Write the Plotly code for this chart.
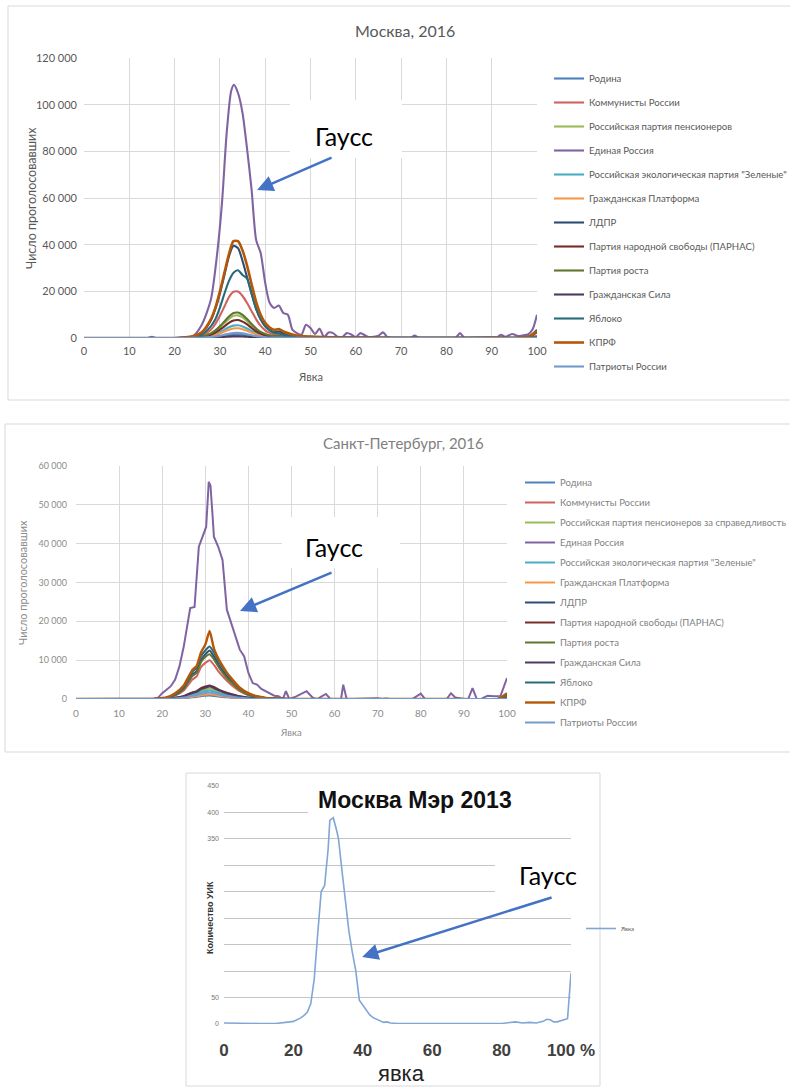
import plotly.graph_objects as go

W, H = 790, 1088
def px(x):
    return x / W
def py(y):
    return 1 - y / H

FONT = "Lato, sans-serif"

# ---------------- data ----------------
PARTIES_MSK = ["Родина", "Коммунисты России", "Российская партия пенсионеров", "Единая Россия",
               "Российская экологическая партия \"Зеленые\"", "Гражданская Платформа", "ЛДПР",
               "Партия народной свободы (ПАРНАС)", "Партия роста", "Гражданская Сила", "Яблоко",
               "КПРФ", "Патриоты России"]
PARTIES_SPB = ["Родина", "Коммунисты России", "Российская партия пенсионеров за справедливость", "Единая Россия",
               "Российская экологическая партия \"Зеленые\"", "Гражданская Платформа", "ЛДПР",
               "Партия народной свободы (ПАРНАС)", "Партия роста", "Гражданская Сила", "Яблоко",
               "КПРФ", "Патриоты России"]
PARTY_COLORS = ["#4F81BD", "#D0625E", "#9BBB59", "#8064A2", "#4BACC6", "#F79646", "#2C4D75",
                "#772C2A", "#5F7530", "#4D3B62", "#276A7C", "#B65708", "#729ACA"]

# Moscow 2016 (turnout, votes)
MSK_X = [0, 20, 22, 24, 26, 28, 29, 30, 31, 32, 33, 34, 35, 36, 37, 38, 39, 40, 41, 42, 43, 44,
         46, 48, 50, 55, 60, 70, 80, 90, 98, 100]
MSK_RODINA = [0, 0, 6, 21, 77, 250, 420, 640, 910, 1180, 1360, 1390, 1260, 1040, 770, 520, 340, 220, 150, 110, 110, 84, 42, 21, 17, 8, 6, 3, 3, 6, 14, 84]
MSK_KOMM = [0, 0, 80, 300, 1000, 3500, 6000, 9500, 13500, 17500, 19800, 19900, 18000, 15000, 11500, 8000, 5200, 3300, 2200, 1600, 1500, 1100, 600, 300, 250, 100, 80, 40, 40, 80, 200, 800]
MSK_PENS = [0, 0, 40, 150, 540, 1750, 2900, 4500, 6400, 8200, 9500, 9700, 8800, 7200, 5400, 3600, 2350, 1500, 1030, 780, 800, 590, 290, 150, 120, 60, 40, 20, 20, 40, 100, 500]
MSK_ZEL = [0, 0, 20, 80, 300, 1000, 1650, 2500, 3600, 4600, 5300, 5450, 4950, 4050, 3000, 2000, 1300, 850, 580, 440, 440, 330, 170, 80, 70, 30, 20, 10, 10, 20, 55, 300]
MSK_PLAT = [0, 0, 17, 63, 230, 760, 1260, 1930, 2730, 3530, 4070, 4160, 3780, 3100, 2300, 1550, 1000, 650, 440, 340, 340, 250, 130, 60, 50, 25, 17, 8, 8, 17, 40, 250]
MSK_LDPR = [0, 0, 150, 600, 2300, 7500, 12500, 19000, 27000, 35000, 39500, 38500, 33000, 26000, 19000, 12500, 8000, 5000, 3500, 2500, 2800, 2000, 1200, 600, 500, 200, 150, 80, 80, 150, 400, 2500]
MSK_PARNAS = [0, 0, 30, 120, 430, 1400, 2300, 3600, 5000, 6500, 7500, 7700, 7000, 5800, 4300, 2900, 1900, 1200, 820, 620, 620, 470, 230, 120, 90, 50, 30, 15, 15, 30, 80, 400]
MSK_ROST = [0, 0, 40, 160, 600, 2000, 3300, 5000, 7100, 9200, 10700, 10900, 9900, 8100, 6000, 4100, 2600, 1700, 1150, 880, 880, 660, 330, 160, 130, 70, 40, 20, 20, 40, 110, 660]
MSK_SILA = [0, 0, 3, 10, 38, 126, 210, 320, 455, 590, 680, 690, 630, 520, 385, 260, 170, 110, 73, 56, 56, 42, 21, 10, 8, 4, 3, 1, 1, 3, 7, 42]
MSK_YABL = [0, 0, 100, 400, 1500, 5000, 8000, 13000, 19000, 24500, 28000, 29000, 27000, 25500, 19000, 12500, 8000, 5000, 3300, 2200, 2000, 1400, 800, 400, 300, 150, 100, 50, 50, 100, 300, 3500]
MSK_KPRF = [0, 0, 200, 700, 2500, 8000, 13000, 20000, 28000, 36000, 41500, 41500, 37500, 31000, 23000, 15500, 10000, 6500, 4500, 3500, 3800, 2800, 1500, 800, 600, 300, 200, 100, 100, 200, 500, 3000]
MSK_PATR = [0, 0, 9, 33, 120, 400, 660, 1010, 1430, 1850, 2130, 2180, 1980, 1630, 1210, 810, 530, 340, 230, 180, 180, 130, 66, 33, 26, 13, 9, 4, 4, 9, 22, 130]

MSK_ER_X = [0, 14, 15, 16, 20, 22, 24, 26, 28, 29.5, 30.5, 31.5, 32.5, 33.1,
            34, 35, 36, 37, 38, 39, 40, 41, 42, 43, 44, 45, 46, 47, 48, 49, 50, 51, 52, 53, 54, 55, 56, 57,
            58, 59, 60, 61, 62, 63, 64, 65, 66, 67, 68,
            70, 72, 73, 74, 76, 80, 82, 83, 84, 86, 88, 90, 91, 92, 93, 94.5, 96, 97, 98, 99, 100]
MSK_ER = [0, 0, 500, 0, 0, 100, 700, 5700, 16400, 38000, 59000, 88000, 106000, 108500,
          105000, 96400, 81000, 63500, 42000, 36400, 23600, 15000, 12900, 13900, 10700, 10000, 3600, 2100, 1400, 5700, 4300, 1700, 4000, 400, 2400, 2100, 500, 400,
          2100, 1500, 300, 2100, 1200, 300, 500, 1000, 2400, 300, 0,
          0, 0, 1000, 0, 0, 0, 0, 2100, 0, 0, 0, 0, 0, 1400, 500, 1700, 800, 1200, 1500, 3600, 10000]

# Saint Petersburg 2016
SPB_X = [0, 17, 19, 21, 23, 25, 26, 27, 28, 29, 30, 31, 32, 33, 34, 35, 36, 37, 38, 40, 42, 44,
         46, 48, 50, 55, 60, 70, 80, 90, 98, 100]
SPB_RODINA = [0, 0, 5, 20, 77, 190, 320, 440, 510, 720, 820, 900, 790, 650, 520, 420, 330, 250, 180, 85, 39, 15, 8, 3, 1, 0, 0, 0, 0, 0, 2, 40]
SPB_KOMM = [0, 0, 60, 230, 850, 2200, 3600, 5000, 5800, 8200, 9300, 10000, 8800, 7200, 5900, 4700, 3700, 2800, 2000, 950, 430, 180, 90, 30, 20, 5, 5, 0, 0, 0, 30, 500]
SPB_PENS = [0, 0, 15, 60, 230, 580, 970, 1310, 1540, 2160, 2450, 2700, 2380, 1940, 1560, 1250, 1000, 740, 540, 250, 115, 46, 23, 8, 4, 0, 0, 0, 0, 0, 8, 120]
SPB_ZEL = [0, 0, 12, 50, 190, 470, 790, 1070, 1250, 1760, 2000, 2200, 1940, 1580, 1270, 1020, 810, 600, 440, 210, 95, 38, 19, 6, 3, 0, 0, 0, 0, 0, 6, 100]
SPB_PLAT = [0, 0, 7, 27, 100, 260, 430, 580, 680, 960, 1090, 1200, 1060, 860, 690, 550, 440, 330, 240, 110, 52, 21, 10, 3, 2, 0, 0, 0, 0, 0, 3, 60]
SPB_LDPR = [0, 0, 80, 300, 1100, 2800, 4600, 6300, 7200, 10000, 11500, 12500, 11000, 9000, 7300, 5800, 4600, 3500, 2500, 1200, 550, 230, 110, 40, 25, 8, 8, 0, 0, 0, 40, 800]
SPB_PARNAS = [0, 0, 20, 80, 300, 750, 1250, 1700, 2000, 2800, 3200, 3500, 3100, 2500, 2000, 1600, 1300, 950, 700, 330, 150, 60, 30, 10, 5, 0, 0, 0, 0, 0, 10, 200]
SPB_ROST = [0, 0, 70, 270, 1000, 2600, 4300, 5900, 6800, 9500, 10800, 11500, 10200, 8400, 6800, 5400, 4300, 3300, 2300, 1100, 500, 210, 100, 40, 20, 8, 8, 0, 0, 0, 40, 700]
SPB_SILA = [0, 0, 20, 70, 270, 690, 1150, 1560, 1820, 2560, 2900, 3200, 2830, 2300, 1850, 1480, 1180, 880, 640, 300, 140, 55, 27, 9, 5, 0, 0, 0, 0, 0, 10, 150]
SPB_YABL = [0, 0, 80, 300, 1200, 3000, 5000, 7000, 8000, 11000, 12500, 13500, 12000, 10000, 8200, 6500, 5200, 4000, 2800, 1400, 650, 280, 130, 50, 30, 10, 10, 0, 0, 0, 50, 1200]
SPB_KPRF = [0, 0, 100, 400, 1500, 3500, 5500, 7500, 8500, 12000, 14000, 17500, 13000, 10500, 8500, 6800, 5400, 4100, 2900, 1500, 700, 300, 150, 50, 30, 10, 10, 0, 0, 0, 50, 1500]
SPB_PATR = [0, 0, 10, 40, 145, 365, 610, 830, 970, 1360, 1550, 1700, 1500, 1220, 980, 790, 630, 470, 340, 160, 73, 29, 15, 5, 3, 0, 0, 0, 0, 0, 5, 80]

SPB_ER_X = [0, 16, 17, 18, 19, 20, 21, 22, 23, 24, 25, 26,
            26.5, 27.5, 28, 28.5, 29.5, 30.2, 30.8, 31.2, 31.7, 32,
            33, 34, 35, 36, 37, 38, 39, 40, 41, 42, 43, 44, 45, 46, 47,
            48, 48.7, 49.5, 51, 52, 53.5, 55, 56, 57, 58, 59, 60, 61, 61.5, 62, 62.8, 64,
            70, 71, 72, 73, 78,
            80, 81, 86, 87, 88,
            90, 91, 92, 93, 94, 95.5, 97, 98.5, 100]
SPB_ER = [0, 0, 100, 150, 300, 1500, 2400, 3300, 5000, 8400, 13500, 20400,
          23400, 23700, 30700, 39200, 42200, 44300, 55900, 55000, 47000, 41800,
          39200, 35800, 23000, 19500, 16100, 12700, 11000, 6700, 4100, 3700, 2600, 2000, 1400, 860, 700,
          0, 2000, 0, 600, 1100, 2000, 250, 0, 700, 1300, 0, 0, 0, 0, 3700, 0, 0,
          200, 0, 150, 0, 0,
          1400, 0, 0, 1500, 400,
          0, 0, 2800, 0, 0, 860, 700, 800, 5400]

# Moscow mayor 2013 (turnout, number of polling stations)
MAYOR_X = [0, 5, 10, 15, 17, 19, 20, 21, 22, 23, 24, 25, 26, 27, 28, 29, 30, 30.5, 31.5, 32.5,
           33, 34, 35, 36, 37, 38, 39, 40, 41, 42, 43, 44, 45, 46, 47, 48,
           50, 55, 60, 65, 70, 75, 80, 84, 86, 88, 90, 92, 93, 94, 95, 96, 97, 98, 99, 100]
MAYOR_Y = [2, 1, 1, 1, 2, 4, 5, 8, 11, 16, 22, 38, 85, 170, 250, 262, 330, 385, 390, 365,
           350, 290, 230, 175, 135, 100, 45, 36, 27, 17, 12, 9, 5, 3, 4, 2,
           1, 1, 1, 1, 1, 1, 1, 4, 2, 3, 2, 5, 9, 8, 4, 4, 6, 9, 10, 96]

X_TICKS = [0, 10, 20, 30, 40, 50, 60, 70, 80, 90, 100]
MSK_Y_TICKS = [0, 20000, 40000, 60000, 80000, 100000, 120000]
MSK_Y_TEXT = ["0", "20 000", "40 000", "60 000", "80 000", "100 000", "120 000"]
SPB_Y_TICKS = [0, 10000, 20000, 30000, 40000, 50000, 60000]
SPB_Y_TEXT = ["0", "10 000", "20 000", "30 000", "40 000", "50 000", "60 000"]
MAYOR_X_TICKS = [0, 20, 40, 60, 80, 100]
MAYOR_X_TEXT = ["0", "20", "40", "60", "80", "100 %"]
MAYOR_Y_TICKS = [0, 50, 350, 400, 450]

MSK_SERIES = [MSK_RODINA, MSK_KOMM, MSK_PENS, None, MSK_ZEL, MSK_PLAT, MSK_LDPR,
              MSK_PARNAS, MSK_ROST, MSK_SILA, MSK_YABL, MSK_KPRF, MSK_PATR]
SPB_SERIES = [SPB_RODINA, SPB_KOMM, SPB_PENS, None, SPB_ZEL, SPB_PLAT, SPB_LDPR,
              SPB_PARNAS, SPB_ROST, SPB_SILA, SPB_YABL, SPB_KPRF, SPB_PATR]

fig = go.Figure()

for i, name in enumerate(PARTIES_MSK):
    if MSK_SERIES[i] is None:
        xs, ys = MSK_ER_X, MSK_ER
    else:
        xs, ys = MSK_X, MSK_SERIES[i]
    fig.add_trace(go.Scatter(x=xs, y=ys, name=name, mode="lines",
                             line=dict(color=PARTY_COLORS[i], width=2.6 if name == "КПРФ" else 2.1,
                                       shape="spline", smoothing=0.7),
                             xaxis="x", yaxis="y", legend="legend", legendgroup="m" + str(i)))

for i, name in enumerate(PARTIES_SPB):
    if SPB_SERIES[i] is None:
        xs, ys = SPB_ER_X, SPB_ER
        shape = "linear"
    else:
        xs, ys = SPB_X, SPB_SERIES[i]
        shape = "spline"
    fig.add_trace(go.Scatter(x=xs, y=ys, name=name, mode="lines",
                             line=dict(color=PARTY_COLORS[i], width=2.4 if name == "КПРФ" else 2.0,
                                       shape=shape, smoothing=0.5),
                             xaxis="x2", yaxis="y2", legend="legend2", legendgroup="s" + str(i)))

fig.add_trace(go.Scatter(x=MAYOR_X, y=MAYOR_Y, name="Явка", mode="lines",
                         line=dict(color="#7FA6D6", width=1.6),
                         xaxis="x3", yaxis="y3", legend="legend3"))

GRID = "#d9d9d9"
axis_common = dict(zeroline=False, showline=False, ticks="", showgrid=True, gridcolor=GRID, gridwidth=1)

fig.update_layout(
    width=W, height=H, autosize=False,
    margin=dict(l=0, r=0, t=0, b=0, pad=0, autoexpand=False),
    paper_bgcolor="white", plot_bgcolor="white",
    font=dict(family=FONT, color="#595959"),
    xaxis=dict(domain=[px(84), px(537)], range=[0, 100], tickvals=X_TICKS, anchor="y",
               tickfont=dict(size=11, color="#595959"), ticklabelstandoff=5, **axis_common),
    yaxis=dict(domain=[py(338), py(58)], range=[0, 120000], tickvals=MSK_Y_TICKS, ticktext=MSK_Y_TEXT,
               anchor="x", tickfont=dict(size=11, color="#595959"), ticklabelstandoff=6, **axis_common),
    xaxis2=dict(domain=[px(76), px(507)], range=[0, 100], tickvals=X_TICKS, anchor="y2",
                tickfont=dict(size=10, color="#8c8c8c"), ticklabelstandoff=7, **axis_common),
    yaxis2=dict(domain=[py(699), py(466)], range=[0, 60000], tickvals=SPB_Y_TICKS, ticktext=SPB_Y_TEXT,
                anchor="x2", tickfont=dict(size=9, color="#8c8c8c"), ticklabelstandoff=8, **axis_common),
    xaxis3=dict(domain=[px(224), px(571)], range=[0, 100], tickvals=MAYOR_X_TICKS, ticktext=MAYOR_X_TEXT,
                anchor="y3", showgrid=False, zeroline=False, showline=False, ticks="",
                tickfont=dict(size=17, color="#404040", family="Liberation Sans", weight="bold"),
                ticklabelstandoff=14),
    yaxis3=dict(domain=[py(1024), py(786)], range=[0, 450], tickvals=MAYOR_Y_TICKS, anchor="x3",
                showgrid=True, gridcolor="#c4c4c4", zeroline=False, showline=False, ticks="",
                minor=dict(dtick=50, showgrid=True, gridcolor="#c4c4c4"),
                tickfont=dict(size=7, color="#777777", family="Liberation Sans"), ticklabelstandoff=4),
    legend=dict(x=px(549), y=py(64), xanchor="left", yanchor="top", traceorder="grouped",
                tracegroupgap=5, font=dict(size=9.6, color="#595959", family=FONT),
                bgcolor="rgba(0,0,0,0)", itemwidth=30),
    legend2=dict(x=px(520), y=py(468), xanchor="left", yanchor="top", traceorder="grouped",
                 tracegroupgap=1, font=dict(size=9.5, color="#7f7f7f", family=FONT),
                 bgcolor="rgba(0,0,0,0)", itemwidth=30),
    legend3=dict(x=px(581), y=py(914), xanchor="left", yanchor="top",
                 font=dict(size=6, color="#595959", family=FONT),
                 bgcolor="rgba(0,0,0,0)", itemwidth=30),
    showlegend=True,
)

# frames and white label boxes (decoration)
shapes = []
for (x0, y0, x1, y1) in [(8, 6, 795, 400), (5, 424, 795, 752), (186, 773, 600, 1086)]:
    shapes.append(dict(type="rect", xref="paper", yref="paper", x0=px(x0), x1=px(x1), y0=py(y1), y1=py(y0),
                       line=dict(color="#d9d9d9", width=1), fillcolor="rgba(0,0,0,0)", layer="below"))
for (x0, y0, x1, y1) in [(290, 100, 402, 158), (282, 517, 400, 568), (495, 853, 590, 903), (308, 781, 578, 816)]:
    shapes.append(dict(type="rect", xref="paper", yref="paper", x0=px(x0), x1=px(x1), y0=py(y1), y1=py(y0),
                       line=dict(width=0), fillcolor="white", layer="above"))
fig.update_layout(shapes=shapes)

ann = []
def text_ann(x, y, text, size, color="#595959", family=FONT, angle=0, weight="normal"):
    ann.append(dict(xref="paper", yref="paper", x=px(x), y=py(y), text=text, showarrow=False,
                    xanchor="center", yanchor="middle", textangle=angle,
                    font=dict(size=size, color=color, family=family, weight=weight)))

text_ann(405, 30, "Москва, 2016", 16)
text_ann(404, 443, "Санкт-Петербург, 2016", 15, color="#7f7f7f")
text_ann(415, 800, "Москва Мэр 2013", 23, color="#111111", family="Liberation Sans", weight="bold")
text_ann(310, 377, "Явка", 11)
text_ann(31, 198, "Число проголосовавших", 12.5, angle=-90)
text_ann(291, 732, "Явка", 9.5, color="#8c8c8c")
text_ann(22, 583, "Число проголосовавших", 11, color="#8c8c8c", angle=-90)
text_ann(401, 1073, "явка", 22, color="#222222", family="Liberation Sans")
text_ann(210, 917, "Количество УИК", 9, color="#333333", family="Liberation Sans", angle=-90, weight="bold")
for (x, y) in [(344, 136), (334, 547), (548, 875)]:
    text_ann(x, y, "Гаусс", 25, color="#000000", family="Lato")

ARROW = "#4472C4"
for (xr, yr, hx, hy, ax, ay) in [("x", "y", 38.2, 63400, 76, -33),
                                  ("x2", "y2", 38.05, 22660, 93, -39),
                                  ("x3", "y3", 39.8, 126.7, 191, -60)]:
    ann.append(dict(xref=xr, yref=yr, x=hx, y=hy, ax=ax, ay=ay, text="", showarrow=True,
                    arrowhead=2, arrowsize=1.3, arrowwidth=2.5, arrowcolor=ARROW, standoff=0))
fig.update_layout(annotations=ann)

fig.write_html("out.html", config={"displayModeBar": False},
               post_script="document.body.style.margin='0px';")
